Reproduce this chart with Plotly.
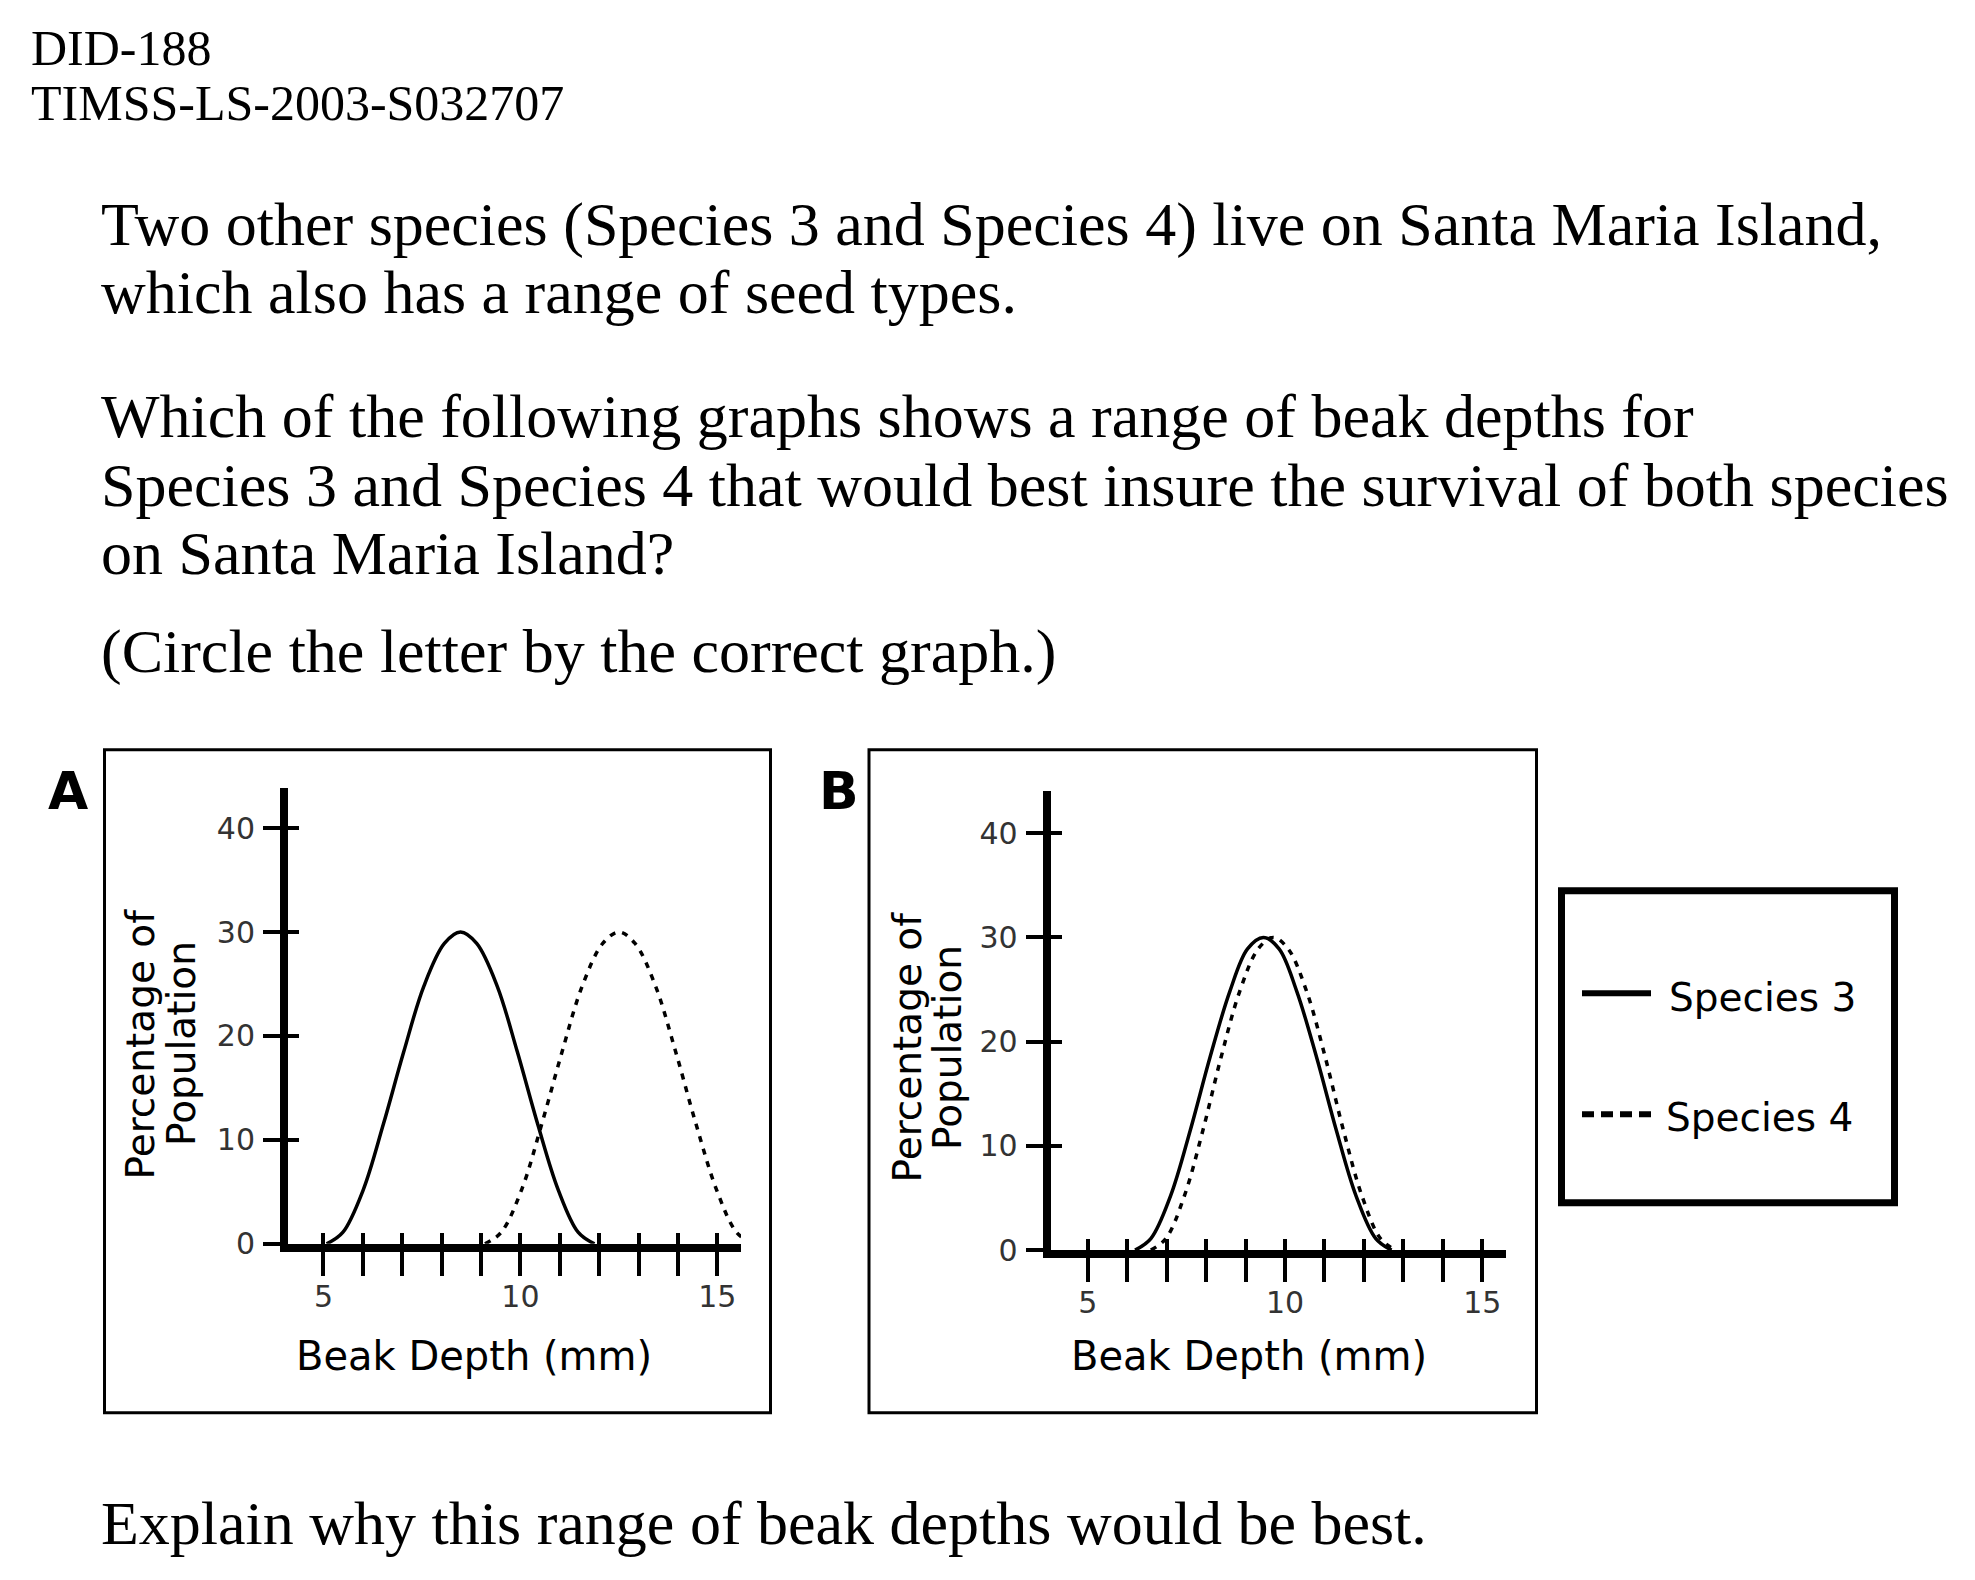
import plotly.graph_objects as go

W, H = 1975, 1580

# ---------------- data ----------------
beak_major_ticks = [5, 10, 15]
beak_minor_ticks = [4, 5, 6, 7, 8, 9, 10, 11, 12, 13, 14, 15]
pct_ticks = [0, 10, 20, 30, 40]
beak_tick_labels = ["5", "10", "15"]
pct_tick_labels = ["0", "10", "20", "30", "40"]

# Graph A
a_sp3_x = [5.08, 5.49, 6.01, 6.52, 7.04, 7.55, 8.07, 8.48, 8.89, 9.41, 9.92, 10.44, 10.96, 11.47, 11.88]
a_sp3_y = [0, 1.1, 5.2, 11.5, 18.5, 24.8, 28.9, 30, 28.9, 24.8, 18.5, 11.5, 5.2, 1.1, 0]
a_sp4_x = [9.1, 9.51, 10.03, 10.54, 11.06, 11.57, 12.09, 12.5, 12.91, 13.43, 13.94, 14.46, 14.98, 15.49, 15.9]
a_sp4_y = [0, 1.1, 5.2, 11.5, 18.5, 24.8, 28.9, 30, 28.9, 24.8, 18.5, 11.5, 5.2, 1.1, 0]

# Graph B
b_sp3_x = [6.2, 6.6, 7.1, 7.6, 8.1, 8.6, 9.05, 9.45, 9.85, 10.3, 10.8, 11.3, 11.8, 12.3, 12.7]
b_sp3_y = [0, 1.1, 5.2, 11.5, 18.5, 24.8, 28.9, 30, 28.9, 24.8, 18.5, 11.5, 5.2, 1.1, 0]
b_sp4_x = [6.6, 6.98, 7.45, 7.92, 8.38, 8.85, 9.32, 9.7, 10.08, 10.55, 11.02, 11.48, 11.95, 12.42, 12.8]
b_sp4_y = [0, 1.1, 5.2, 11.5, 18.5, 24.8, 28.9, 30, 28.9, 24.8, 18.5, 11.5, 5.2, 1.1, 0]

series_names = ["Species 3", "Species 4"]

header_lines = ["DID-188", "TIMSS-LS-2003-S032707"]
body_lines = [
    "Two other species (Species 3 and Species 4) live on Santa Maria Island,",
    "which also has a range of seed types.",
    "Which of the following graphs shows a range of beak depths for",
    "Species 3 and Species 4 that would best insure the survival of both species",
    "on Santa Maria Island?",
    "(Circle the letter by the correct graph.)",
    "Explain why this range of beak depths would be best.",
]
x_title = "Beak Depth (mm)"
y_title_lines = ["Percentage of", "Population"]
panel_letters = ["A", "B"]


# ---------------- helpers ----------------
def px(x):
    return x / W


def py(y):
    return 1 - y / H


SANS = "DejaVu Sans"
SERIF = "Liberation Serif"

fig = go.Figure()

solid = dict(color="black", width=3.5, shape="spline", smoothing=1.0)
dotted = dict(color="black", width=3.5, shape="spline", smoothing=1.0, dash="6px,7px")

fig.add_trace(go.Scatter(x=a_sp3_x, y=a_sp3_y, mode="lines", line=solid, name=series_names[0],
                         xaxis="x", yaxis="y", showlegend=False))
fig.add_trace(go.Scatter(x=a_sp4_x, y=a_sp4_y, mode="lines", line=dotted, name=series_names[1],
                         xaxis="x", yaxis="y", showlegend=False))
fig.add_trace(go.Scatter(x=b_sp3_x, y=b_sp3_y, mode="lines", line=solid, name=series_names[0],
                         xaxis="x2", yaxis="y2", showlegend=False))
fig.add_trace(go.Scatter(x=b_sp4_x, y=b_sp4_y, mode="lines", line=dotted, name=series_names[1],
                         xaxis="x2", yaxis="y2", showlegend=False))
# empty traces so the overlay (inside-tick) axes are drawn
fig.add_trace(go.Scatter(x=[None], y=[None], xaxis="x3", yaxis="y3", showlegend=False, hoverinfo="skip"))
fig.add_trace(go.Scatter(x=[None], y=[None], xaxis="x4", yaxis="y4", showlegend=False, hoverinfo="skip"))

tickfont = dict(family=SANS, size=30, color="#333333")
TW = 3.5


def main_x(dom, rng, anchor):
    return dict(domain=dom, range=rng, anchor=anchor, showline=True, linewidth=8, linecolor="black",
                ticks="outside", ticklen=24, tickwidth=TW, tickcolor="black",
                tickmode="array", tickvals=beak_major_ticks, ticktext=beak_tick_labels,
                tickfont=tickfont, ticklabelstandoff=-5,
                minor=dict(ticks="outside", ticklen=24, tickwidth=TW, tickcolor="black",
                           tickmode="array", tickvals=beak_minor_ticks, showgrid=False),
                showgrid=False, zeroline=False, fixedrange=True)


def main_y(dom, rng, anchor):
    return dict(domain=dom, range=rng, anchor=anchor, showline=True, linewidth=8, linecolor="black",
                ticks="outside", ticklen=17, tickwidth=TW, tickcolor="black",
                tickmode="array", tickvals=pct_ticks, ticktext=pct_tick_labels,
                tickfont=tickfont, ticklabelstandoff=2,
                showgrid=False, zeroline=False, fixedrange=True)


def over_x(rng, anchor, over):
    return dict(range=rng, anchor=anchor, overlaying=over, showline=False,
                ticks="inside", ticklen=11, tickwidth=TW, tickcolor="black",
                tickmode="array", tickvals=beak_minor_ticks, showticklabels=False,
                showgrid=False, zeroline=False, fixedrange=True)


def over_y(rng, anchor, over):
    return dict(range=rng, anchor=anchor, overlaying=over, showline=False,
                ticks="inside", ticklen=11, tickwidth=TW, tickcolor="black",
                tickmode="array", tickvals=pct_ticks, showticklabels=False,
                showgrid=False, zeroline=False, fixedrange=True)


ax_rng = [4.1, 15.6]
ay_rng = [0, 43.88]
bx_rng = [4.06, 15.6]
by_rng = [0, 44.0]

A_xdom = [px(288), px(741)]
A_ydom = [py(1258.2), py(796.8)]
B_xdom = [px(1050.6), px(1506)]
B_ydom = [py(1264.5), py(800.6)]

shapes = []
# panel frames
for (x0, y0, x1, y1) in [(104.5, 758.5, 770.5, 1429), (869, 758.5, 1536.5, 1429)]:
    shapes.append(dict(type="rect", xref="paper", yref="paper", x0=px(x0), x1=px(x1), y0=py(y1), y1=py(y0),
                       line=dict(color="black", width=3), fillcolor="rgba(0,0,0,0)", layer="below"))
# legend frame
shapes.append(dict(type="rect", xref="paper", yref="paper", x0=px(1561.5), x1=px(1894.5), y0=py(1216.5),
                   y1=py(901), line=dict(color="black", width=7), fillcolor="rgba(0,0,0,0)"))
# legend keys
shapes.append(dict(type="line", xref="paper", yref="paper", x0=px(1582), x1=px(1651), y0=py(1004.6),
                   y1=py(1004.6), line=dict(color="black", width=6)))
shapes.append(dict(type="line", xref="paper", yref="paper", x0=px(1582), x1=px(1651), y0=py(1127),
                   y1=py(1127), line=dict(color="black", width=6, dash="12px,7px")))

ann = []


def text(s, x, y, size, family, xanchor="left", color="black", angle=0, bold=False):
    ann.append(dict(text=(f"<b>{s}</b>" if bold else s), x=px(x), y=py(y), xref="paper", yref="paper",
                    xanchor=xanchor, yanchor="middle", showarrow=False, textangle=angle,
                    font=dict(family=family, size=size, color=color)))


# header
text(header_lines[0], 29, 48.4, 50, SERIF)
text(header_lines[1], 29, 104.5, 50, SERIF)
# body
body_mid = [226.9, 295.8, 420.7, 490.8, 559.7, 659.1, 1540.1]
for s, m in zip(body_lines, body_mid):
    text(s, 99, m, 62, SERIF)

# panel letters
text(panel_letters[0], 68, 800.6, 52, SANS, xanchor="center", bold=True)
text(panel_letters[1], 839, 800.6, 52, SANS, xanchor="center", bold=True)

# axis titles
text(x_title, 474, 1371.8, 40, SANS, xanchor="center")
text(x_title, 1249, 1371.8, 40, SANS, xanchor="center")
text(y_title_lines[0], 140.5, 1056, 39, SANS, xanchor="center", angle=-90)
text(y_title_lines[1], 182, 1056, 39, SANS, xanchor="center", angle=-90)
text(y_title_lines[0], 907, 1059.5, 39, SANS, xanchor="center", angle=-90)
text(y_title_lines[1], 947.5, 1059.5, 39, SANS, xanchor="center", angle=-90)

# legend labels
text(series_names[0], 1667, 1008.5, 39, SANS)
text(series_names[1], 1664, 1130.8, 39, SANS)

fig.update_layout(
    width=W, height=H, autosize=False,
    margin=dict(l=0, r=0, t=0, b=0, pad=0),
    paper_bgcolor="white", plot_bgcolor="white",
    showlegend=False,
    xaxis=main_x(A_xdom, ax_rng, "y"),
    yaxis=main_y(A_ydom, ay_rng, "x"),
    xaxis2=main_x(B_xdom, bx_rng, "y2"),
    yaxis2=main_y(B_ydom, by_rng, "x2"),
    xaxis3=over_x(ax_rng, "y", "x"),
    yaxis3=over_y(ay_rng, "x", "y"),
    xaxis4=over_x(bx_rng, "y2", "x2"),
    yaxis4=over_y(by_rng, "x2", "y2"),
    shapes=shapes,
    annotations=ann,
)

fig.write_html("out.html")
